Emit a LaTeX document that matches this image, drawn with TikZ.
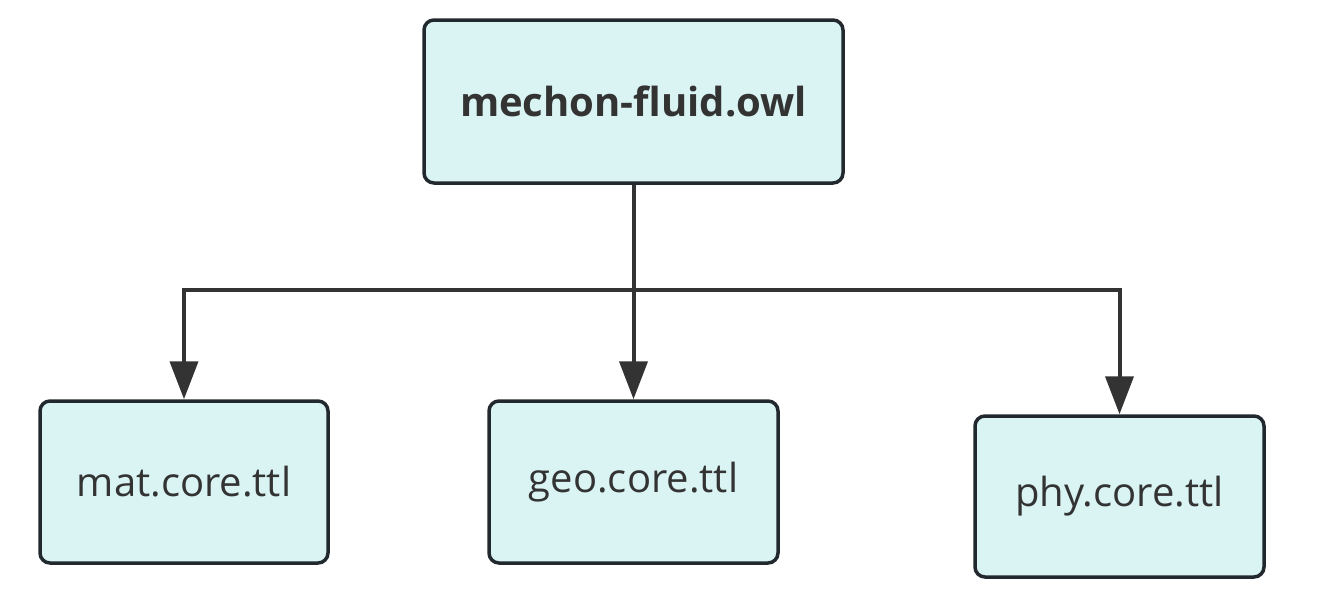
\documentclass[tikz,border=0pt]{standalone}
\usepackage{fontspec}
\setmainfont{Open Sans}
\usetikzlibrary{arrows.meta}
\definecolor{boxfill}{HTML}{DAF4F4}
\definecolor{boxline}{HTML}{22292E}
\definecolor{linkcol}{HTML}{333333}
\begin{document}
\begin{tikzpicture}[x=1pt,y=-1pt,
  box/.style={draw=boxline, fill=boxfill, line width=3.5pt, rounded corners=10pt, inner sep=0pt, text=linkcol},
  link/.style={draw=linkcol, line width=4pt, -{Triangle[length=38pt,width=28pt]}}]
\useasboundingbox (0,0) rectangle (1342,613);
\node[box, minimum width=419pt, minimum height=163pt, font=\fontsize{40}{48}\selectfont\bfseries] (root) at (633.5,101.5) {mechon-fluid.owl};
\node[box, minimum width=288pt, minimum height=162pt, font=\fontsize{40}{48}\selectfont] (mat) at (184,482) {mat.core.ttl};
\node[box, minimum width=289pt, minimum height=162pt, font=\fontsize{40}{48}\selectfont] (geo) at (633.5,482) {geo.core.ttl};
\node[box, minimum width=289pt, minimum height=161pt, font=\fontsize{40}{48}\selectfont] (phy) at (1119.5,496.5) {phy.core.ttl};
\coordinate (j) at (633.5,290);
\draw[link] (root.south) -- (j) -| (mat.north);
\draw[link] (j) -- (geo.north);
\draw[link] (j) -| (phy.north);
\end{tikzpicture}
\end{document}
